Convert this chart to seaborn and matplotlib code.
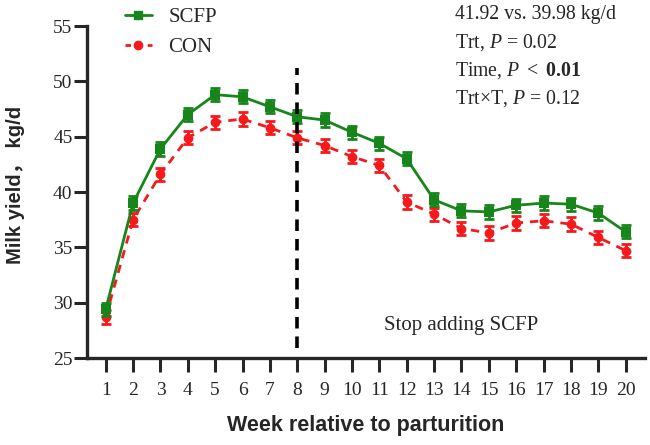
import matplotlib
matplotlib.use("Agg")
import matplotlib.pyplot as plt
import seaborn as sns
import pandas as pd
from matplotlib.lines import Line2D

weeks = list(range(1, 21))
scfp = [29.4, 39.0, 43.9, 47.0, 48.8, 48.6, 47.7, 46.8, 46.5, 45.4,
        44.4, 43.0, 39.3, 38.3, 38.2, 38.8, 39.0, 38.9, 38.1, 36.4]
con = [28.7, 37.5, 41.6, 44.9, 46.3, 46.6, 45.8, 44.9, 44.2, 43.2,
       42.4, 39.1, 38.0, 36.7, 36.3, 37.2, 37.4, 37.1, 35.9, 34.7]
scfp_se = [0.6] * 20
con_se = [0.6] * 20
yticks = [25, 30, 35, 40, 45, 50, 55]
stats_lines = ["41.92 vs. 39.98 kg/d",
               r"Trt, $\it{P}$ = 0.02",
               r"Time, $\it{P}$ $<$ $\bf{0.01}$",
               r"Trt×T, $\it{P}$ = 0.12"]

sns.set_style("ticks")
plt.rcParams['font.family'] = ['Liberation Serif', 'Noto Sans CJK SC', 'DejaVu Sans']
plt.rcParams['mathtext.fontset'] = 'custom'
plt.rcParams['mathtext.rm'] = 'Liberation Serif'
plt.rcParams['mathtext.it'] = 'Liberation Serif:italic'
plt.rcParams['mathtext.bf'] = 'Liberation Serif:bold'

green = "#17861a"
red = "#f5191c"

df = pd.DataFrame({"week": weeks * 2, "yield": scfp + con,
                   "group": ["SCFP"] * 20 + ["CON"] * 20})

fig = plt.figure(figsize=(6.5, 4.45), dpi=100)
ax = fig.add_axes([0.134, 0.1955, 0.858, 0.746])

ax.errorbar(weeks, con, yerr=con_se, fmt="none", ecolor=red, elinewidth=2,
            capsize=3.5, capthick=2, zorder=2)
ax.errorbar(weeks, scfp, yerr=scfp_se, fmt="none", ecolor=green, elinewidth=2,
            capsize=3.5, capthick=2, zorder=3)
sns.lineplot(data=df[df.group == "CON"], x="week", y="yield", ax=ax, color=red,
             marker="o", markersize=7, markeredgewidth=0, lw=2,
             linestyle=(0, (3, 2.5)), zorder=2, legend=False)
sns.lineplot(data=df[df.group == "SCFP"], x="week", y="yield", ax=ax, color=green,
             marker="s", markersize=6.5, markeredgewidth=0, lw=2, zorder=3,
             legend=False)

ax.plot([8, 8], [25.9, 51.2], color="black", lw=2.6, linestyle=(0, (3.2, 2.2)), zorder=4)

ax.set_xlim(0.32, 20.7)
ax.set_ylim(25, 55)
ax.set_xticks(weeks)
ax.set_yticks(yticks)
ax.tick_params(axis="x", length=10, width=2.2, labelsize=14, pad=7)
ax.tick_params(axis="y", length=9.5, width=2.2, labelsize=14, pad=1)
for s in ["left", "bottom"]:
    ax.spines[s].set_linewidth(2.4)
sns.despine(ax=ax)

ax.set_xlabel("Week relative to parturition", fontsize=15.5, fontweight="bold",
              family=["Liberation Sans", "Noto Sans CJK SC"], labelpad=12)
ax.set_ylabel("Milk yield， kg/d", fontsize=14.6, fontweight="bold",
              family=["Liberation Sans", "Noto Sans CJK SC"], labelpad=12)
ax.yaxis.set_label_coords(-0.112, 0.52)

ax.text(14, 27.9, "Stop adding SCFP", fontsize=15, ha="center", va="center")

handles = [Line2D([], [], color=green, marker="s", markersize=6, lw=2),
           Line2D([], [], color=red, marker="o", markersize=6, lw=2,
                  linestyle=(0, (2, 2)))]
fig.legend(handles, ["SCFP", "CON"], loc="upper left",
           bbox_to_anchor=(0.163, 1.025), frameon=False, fontsize=15,
           handlelength=1.3, labelspacing=0.5, handletextpad=0.8)

for i, t in enumerate(stats_lines):
    fig.text(0.70, 1 - (14 + 28.3 * i) / 445, t, fontsize=14.2, va="center", ha="left")

fig.savefig("out.png", dpi=100)
